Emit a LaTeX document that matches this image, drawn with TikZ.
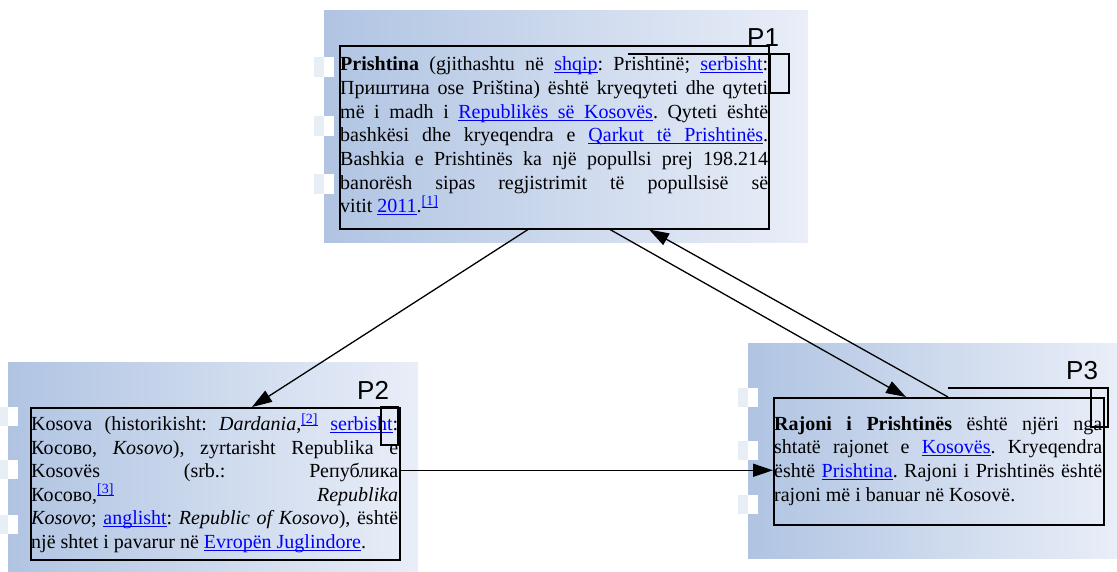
\documentclass[tikz,border=0pt]{standalone}
\usepackage{fontspec}
\setmainfont{Liberation Serif}
\newfontfamily\labfont{Liberation Sans}
\usetikzlibrary{arrows.meta,calc}
\definecolor{bgl}{HTML}{B0C4E2}
\definecolor{bgr}{HTML}{E9EEF8}
\definecolor{sqpale}{HTML}{E8EEF6}
\definecolor{linkblue}{HTML}{0000FF}
\newcommand\lnk[1]{{\color{linkblue}\setbox0\hbox{#1}\rlap{\rule[-2.3pt]{\wd0}{0.8pt}}\box0}}
\newcommand\usp{{\color{linkblue}\leaders\hrule height -1.5pt depth 2.3pt\hskip\fontdimen2\font plus \fontdimen3\font minus \fontdimen4\font}}
\newcommand\sref[1]{\textsuperscript{\lnk{#1}}}
\newcommand\jl[2]{\hbox to #1{#2}}
\tikzset{
  bgshade/.style={left color=bgl, right color=bgr, draw=none},
  panel/.style={draw=black, line width=1.5pt, anchor=north west, inner sep=0pt, fill=none},
  txt/.style={anchor=base west, inner sep=0pt, font=\fontsize{20}{23.7}\selectfont\frenchspacing},
  lab/.style={anchor=base west, inner sep=0pt, font=\labfont\fontsize{26}{30}\selectfont},
  tagline/.style={draw=black, line width=1.2pt},
  conn/.style={draw=black, line width=1.3pt, -{Triangle[length=20pt,width=13pt]}},
}
\begin{document}
\begin{tikzpicture}[x=1pt,y=-1pt]
\useasboundingbox (0,0) rectangle (1117,571);
% backgrounds
\shade[bgshade] (324,10) rectangle (808,242);
\shade[bgshade] (8,362) rectangle (418,571);
\shade[bgshade] (748,343) rectangle (1117,558);
% small squares
\foreach \y in {57,116,174}{
  \fill[sqpale] (314,\y) rectangle (324,\y+20);
  \fill[white] (324,\y) rectangle (334,\y+20);
}
\foreach \y in {407,460,515}{
  \fill[sqpale] (0,\y) rectangle (8,\y+19);
  \fill[white] (8,\y) rectangle (18,\y+19);
}
\foreach \y in {388,441,495}{
  \fill[sqpale] (738,\y) rectangle (748,\y+19);
  \fill[white] (748,\y) rectangle (758,\y+19);
}
% boxes
\node[panel, minimum width=429pt, minimum height=183pt] (p1) at (339,45) {};
\node[panel, minimum width=369pt, minimum height=152pt] (p2) at (30,407) {};
\node[panel, minimum width=330pt, minimum height=127pt] (p3) at (773,397) {};
% texts
\node[txt] (t1) at (340,70.7) {\vtop{\baselineskip=23.7pt
\jl{428pt}{\textbf{Prishtina} (gjithashtu në \lnk{shqip}: Prishtinë; \lnk{serbisht}:}
\jl{428pt}{Приштина ose Priština) është kryeqyteti dhe qyteti}
\jl{428pt}{më i madh i \lnk{Republikës}\usp\lnk{së}\usp\lnk{Kosovës}. Qyteti është}
\jl{428pt}{bashkësi dhe kryeqendra e \lnk{Qarkut}\usp\lnk{të}\usp\lnk{Prishtinës}.}
\jl{428pt}{Bashkia e Prishtinës ka një popullsi prej 198.214}
\jl{428pt}{banorësh sipas regjistrimit të popullsisë së}
\hbox{vitit \lnk{2011}.\sref{[1]}}}};
\node[txt] (t2) at (31,430.7) {\vtop{\baselineskip=23.5pt
\jl{367pt}{Kosova (historikisht: \textit{Dardania},\sref{[2]} \lnk{serbisht}:}
\jl{367pt}{Косово, \textit{Kosovo}), zyrtarisht Republika e}
\jl{367pt}{Kosovës (srb.: Република}
\jl{367pt}{Косово,\sref{[3]} \textit{Republika}}
\jl{367pt}{\textit{Kosovo}; \lnk{anglisht}: \textit{Republic of Kosovo}), është}
\hbox{një shtet i pavarur në \lnk{Evropën}\usp\lnk{Juglindore}.}}};
\node[txt] (t3) at (774,430) {\vtop{\baselineskip=23.7pt
\jl{328pt}{\textbf{Rajoni i Prishtinës} është njëri nga}
\jl{328pt}{shtatë rajonet e \lnk{Kosovës}. Kryeqendra}
\jl{328pt}{është \lnk{Prishtina}. Rajoni i Prishtinës është}
\hbox{rajoni më i banuar në Kosovë.}}};
% labels
\node[lab] (l1) at (747,46.5) {P1};
\node[lab] (l2) at (357,399) {P2};
\node[lab] (l3) at (1066,379) {P3};
\draw[tagline] (628,54) -- (789,54);
\draw[tagline] (770,54) rectangle (789,93);
\draw[tagline] (381,407) rectangle (398,445);
\draw[tagline] (948,388) -- (1108,388);
\draw[tagline] (1091,388) rectangle (1108,427);
% connectors
\draw[conn] ([xshift=189pt]p1.south west) -- ([xshift=222pt]p2.north west);
\draw[conn] ([xshift=271pt]p1.south west) -- ([xshift=133pt]p3.north west);
\draw[conn] ([xshift=175pt]p3.north west) -- ([xshift=310pt]p1.south west);
\draw[conn] ([yshift=13.5pt]p2.east) -- ([yshift=-9pt]p3.west);
\end{tikzpicture}
\end{document}
